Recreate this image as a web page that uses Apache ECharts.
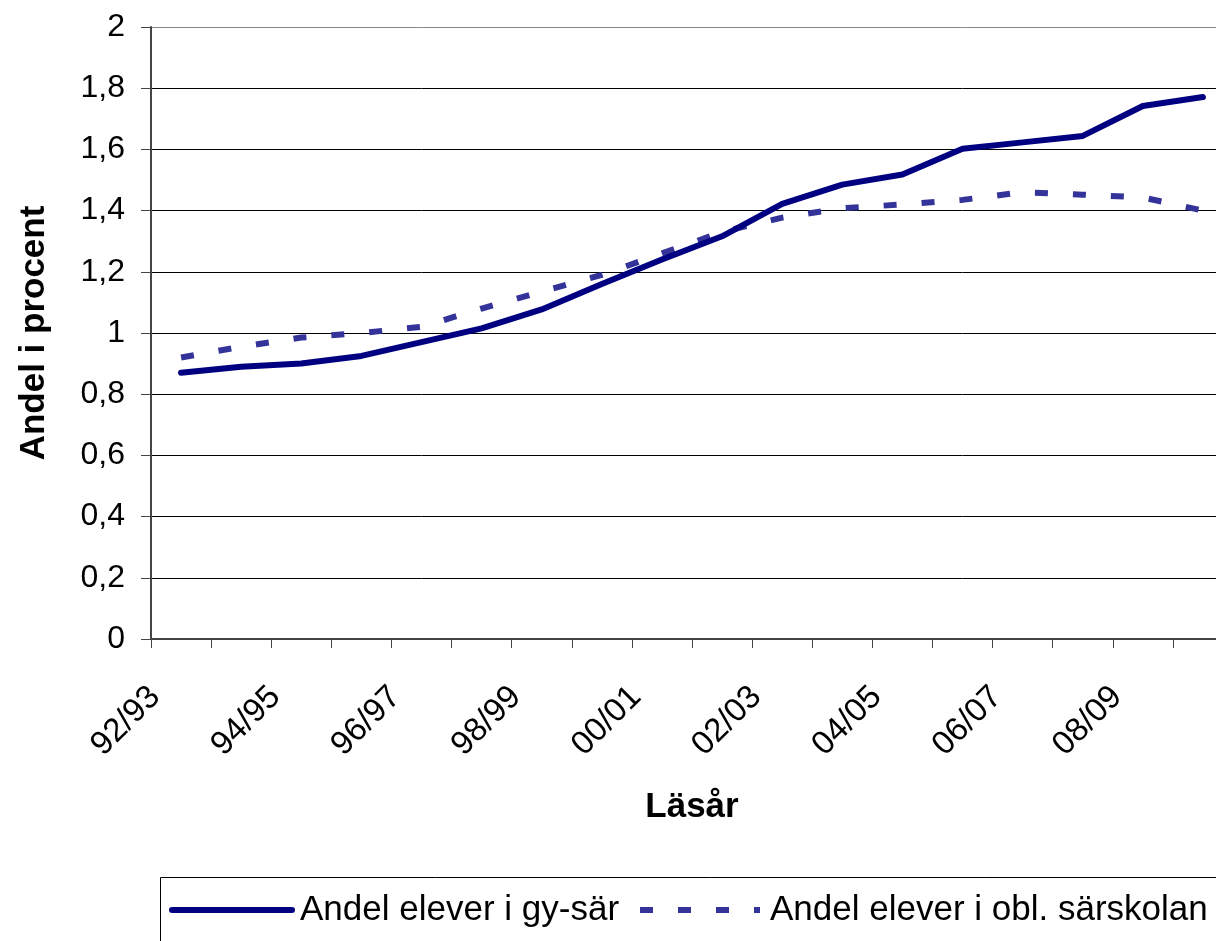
<!DOCTYPE html>
<html>
<head>
<meta charset="utf-8">
<script src="https://cdn.jsdelivr.net/npm/echarts@6/dist/echarts.min.js"></script>
<style>
html,body{margin:0;padding:0;overflow:hidden;background:#fff;}
#chart{width:1260px;height:941px;}
</style>
</head>
<body>
<div id="chart"></div>
<script>
const categories = ['92/93','93/94','94/95','95/96','96/97','97/98','98/99','99/00','00/01','01/02','02/03','03/04','04/05','05/06','06/07','07/08','08/09','09/10'];
const gySar = [0.87,0.89,0.90,0.925,0.97,1.015,1.077,1.16,1.24,1.316,1.422,1.485,1.518,1.602,1.623,1.644,1.742,1.771];
const oblSar = [0.92,0.955,0.985,1.0,1.02,1.08,1.135,1.19,1.26,1.33,1.377,1.408,1.42,1.435,1.46,1.452,1.443,1.40];
const seriesNames = ['Andel elever i gy-sär','Andel elever i obl. särskolan'];
const yTitle = 'Andel i procent';
const xTitle = 'Läsår';

const FONT = '"Liberation Sans", Arial, sans-serif';
const SOLID = '#000080';
const DASHED = '#333399';
const DASH = [13, 25];
const chart = echarts.init(document.getElementById('chart'));
chart.setOption({
  animation: false,
  backgroundColor: '#fff',
  grid: {left: 151, top: 27, right: 27, bottom: 302, containLabel: false, outerBoundsMode: 'none'},
  graphic: [
    {type: 'rect', left: 160, top: 877, z: -1,
      shape: {width: 1200, height: 200},
      style: {fill: '#fff', stroke: '#000', lineWidth: 1}},
    {type: 'line', shape: {x1: 172, y1: 910, x2: 292, y2: 910},
      style: {stroke: SOLID, lineWidth: 6, lineCap: 'round'}},
    {type: 'text', x: 300, y: 910,
      style: {text: seriesNames[0], font: '35px ' + FONT, fill: '#000', verticalAlign: 'middle', align: 'left'}},
    {type: 'line', shape: {x1: 640, y1: 910, x2: 760, y2: 910},
      style: {stroke: DASHED, lineWidth: 6, lineDash: DASH, lineCap: 'butt'}},
    {type: 'text', x: 770, y: 910,
      style: {text: seriesNames[1], font: '35px ' + FONT, fill: '#000', verticalAlign: 'middle', align: 'left'}}
  ],
  xAxis: {
    type: 'category',
    data: categories,
    boundaryGap: true,
    name: xTitle,
    nameLocation: 'middle',
    nameGap: 151,
    nameTextStyle: {fontFamily: FONT, fontSize: 35, fontWeight: 'bold', color: '#000'},
    axisLine: {lineStyle: {color: '#444', width: 2}},
    axisTick: {show: true, interval: 0, length: 9, lineStyle: {color: '#444', width: 1}},
    axisLabel: {interval: 1, rotate: 45, margin: 27, fontFamily: FONT, fontSize: 33, color: '#000',
      formatter: v => v + '    '},
    splitLine: {show: false}
  },
  yAxis: {
    type: 'value',
    min: 0, max: 2, interval: 0.2,
    name: yTitle,
    nameLocation: 'middle',
    nameGap: 99,
    nameTextStyle: {fontFamily: FONT, fontSize: 35, fontWeight: 'bold', color: '#000'},
    axisLine: {show: true, lineStyle: {color: '#444', width: 2}},
    axisTick: {show: true, length: 10, lineStyle: {color: '#444', width: 1}},
    axisLabel: {margin: 26, fontFamily: FONT, fontSize: 32, color: '#000',
      formatter: v => String(Math.round(v * 10) / 10).replace('.', ',')},
    splitLine: {show: true, lineStyle: {color: ['#000','#000','#000','#000','#000','#000','#000','#000','#000','#000','#888'], width: 1}}
  },
  series: [
    {
      name: seriesNames[0], type: 'line', data: gySar,
      symbol: 'none', showSymbol: false,
      lineStyle: {color: SOLID, width: 6, join: 'round', cap: 'round'},
      itemStyle: {color: SOLID},
      z: 3
    },
    {
      name: seriesNames[1], type: 'line', data: oblSar,
      symbol: 'none', showSymbol: false,
      lineStyle: {color: DASHED, width: 6, type: DASH, cap: 'butt'},
      itemStyle: {color: DASHED},
      z: 2
    }
  ]
});
</script>
</body>
</html>
